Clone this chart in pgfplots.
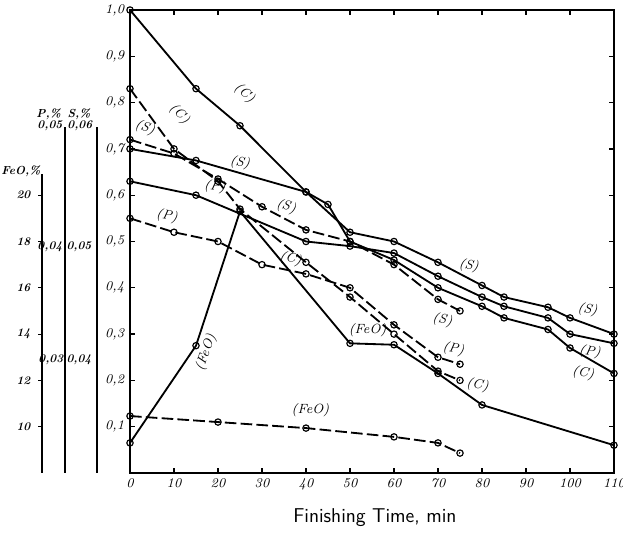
\documentclass[border=0pt]{standalone}
\usepackage{pgfplots}
\pgfplotsset{compat=1.18}
\pgfplotsset{ser/.style={black, solid, line width=1.1pt, mark=o, mark size=1.9pt, mark options={fill=white, solid, line width=0.7pt}},
  dser/.style={ser, dash pattern=on 7pt off 2.5pt}}
\begin{document}
\begin{tikzpicture}
\useasboundingbox (-78pt,-39pt) rectangle (295.8pt,283.8pt);
\begin{axis}[
  at={(0pt,0pt)}, anchor=south west,
  scale only axis, width=290.4pt, height=277.8pt,
  xmin=0, xmax=110, ymin=0, ymax=1,
  xtick={0,10,...,110},
  ytick={0.1,0.2,0.3,0.4,0.5,0.6,0.7,0.8,0.9,1.0},
  yticklabels={{0,1},{0,2},{0,3},{0,4},{0,5},{0,6},{0,7},{0,8},{0,9},{1,0}},
  xticklabels={0,10,20,30,40,50,60,70,80,90,100,110},
  axis line style={line width=1pt},
  tick style={black, line width=0.8pt},
  major tick length=3pt,
  tick align=inside,
  ticklabel style={font=\itshape\footnotesize},
  xlabel={Finishing Time, min},
  xlabel style={font=\sffamily\large, at={(axis description cs:0.506,-0.097)}, anchor=center},
  clip=false,
]
% solid heat
\addplot[ser] coordinates {(0,1.00)(15,0.83)(25,0.75)(40,0.607)(45,0.58)(50,0.50)(60,0.46)(70,0.40)(80,0.36)(85,0.335)(95,0.31)(100,0.27)(110,0.215)};
\addplot[ser] coordinates {(0,0.70)(15,0.675)(40,0.607)(50,0.52)(60,0.50)(70,0.455)(80,0.405)(85,0.38)(95,0.358)(100,0.335)(110,0.30)};
\addplot[ser] coordinates {(0,0.63)(15,0.60)(40,0.50)(50,0.49)(60,0.475)(70,0.425)(80,0.38)(85,0.36)(95,0.335)(100,0.30)(110,0.28)};
\addplot[ser] coordinates {(0,0.065)(15,0.275)(25,0.565)(50,0.28)(60,0.277)(70,0.215)(80,0.147)(110,0.06)};
% dashed heat
\addplot[dser] coordinates {(0,0.83)(10,0.70)(20,0.63)(25,0.57)(40,0.455)(50,0.38)(60,0.30)(70,0.22)(75,0.20)};
\addplot[dser] coordinates {(0,0.72)(10,0.69)(20,0.635)(30,0.575)(40,0.525)(50,0.50)(60,0.45)(70,0.375)(75,0.35)};
\addplot[dser] coordinates {(0,0.55)(10,0.52)(20,0.50)(30,0.45)(40,0.43)(50,0.40)(60,0.32)(70,0.25)(75,0.235)};
\addplot[dser] coordinates {(0,0.123)(20,0.11)(40,0.097)(60,0.078)(70,0.065)(75,0.043)};

% curve labels
\node[font=\itshape\footnotesize,rotate=-40] at (axis cs:26,0.82) {(C)};
\node[font=\itshape\footnotesize,rotate=-45] at (axis cs:11.2,0.775) {(C)};
\node[font=\itshape\footnotesize,rotate=-20] at (axis cs:3.4,0.745) {(S)};
\node[font=\itshape\footnotesize,rotate=-10] at (axis cs:25,0.67) {(S)};
\node[font=\itshape\footnotesize,rotate=-10] at (axis cs:19.3,0.618) {(P)};
\node[font=\itshape\footnotesize,rotate=-10] at (axis cs:8.4,0.555) {(P)};
\node[font=\itshape\footnotesize,rotate=-15] at (axis cs:35.5,0.575) {(S)};
\node[font=\itshape\footnotesize,rotate=70] at (axis cs:17.3,0.26) {(FeO)};
\node[font=\itshape\footnotesize,rotate=-15] at (axis cs:36.5,0.462) {(C)};
\node[font=\itshape\footnotesize] at (axis cs:54,0.308) {(FeO)};
\node[font=\itshape\footnotesize,rotate=-10] at (axis cs:71,0.33) {(S)};
\node[font=\itshape\footnotesize,rotate=-10] at (axis cs:77,0.448) {(S)};
\node[font=\itshape\footnotesize,rotate=-10] at (axis cs:73.5,0.268) {(P)};
\node[font=\itshape\footnotesize,rotate=-10] at (axis cs:79,0.19) {(C)};
\node[font=\itshape\footnotesize,rotate=-10] at (axis cs:104,0.352) {(S)};
\node[font=\itshape\footnotesize,rotate=-10] at (axis cs:104.5,0.262) {(P)};
\node[font=\itshape\footnotesize,rotate=-10] at (axis cs:103,0.215) {(C)};
\node[font=\itshape\footnotesize] at (axis cs:41,0.135) {(FeO)};

% auxiliary scales
\draw[line width=1pt] (axis cs:-20,0) -- (axis cs:-20,0.645);
\draw[line width=0.7pt] (axis cs:-20,0.1) -- (axis cs:-20.8,0.1);
\draw[line width=0.7pt] (axis cs:-20,0.2) -- (axis cs:-20.8,0.2);
\draw[line width=0.7pt] (axis cs:-20,0.3) -- (axis cs:-20.8,0.3);
\draw[line width=0.7pt] (axis cs:-20,0.4) -- (axis cs:-20.8,0.4);
\draw[line width=0.7pt] (axis cs:-20,0.5) -- (axis cs:-20.8,0.5);
\draw[line width=0.7pt] (axis cs:-20,0.6) -- (axis cs:-20.8,0.6);
\node[font=\itshape\bfseries\scriptsize,anchor=east] at (axis cs:-21.3,0.1) {10};
\node[font=\itshape\bfseries\scriptsize,anchor=east] at (axis cs:-21.3,0.2) {12};
\node[font=\itshape\bfseries\scriptsize,anchor=east] at (axis cs:-21.3,0.3) {14};
\node[font=\itshape\bfseries\scriptsize,anchor=east] at (axis cs:-21.3,0.4) {16};
\node[font=\itshape\bfseries\scriptsize,anchor=east] at (axis cs:-21.3,0.5) {18};
\node[font=\itshape\bfseries\scriptsize,anchor=east] at (axis cs:-21.3,0.6) {20};
\node[font=\itshape\bfseries\scriptsize] at (axis cs:-24.8,0.652) {FeO,\%};
\draw[line width=1pt] (axis cs:-14.8,0) -- (axis cs:-14.8,0.747);
\node[font=\itshape\bfseries\scriptsize] at (axis cs:-18.2,0.488) {0,04};
\node[font=\itshape\bfseries\scriptsize] at (axis cs:-18.0,0.244) {0,03};
\node[font=\itshape\bfseries\scriptsize] at (axis cs:-18.2,0.750) {0,05};
\node[font=\itshape\bfseries\scriptsize] at (axis cs:-18.5,0.775) {P,\%};
\draw[line width=1pt] (axis cs:-7.5,0) -- (axis cs:-7.5,0.747);
\node[font=\itshape\bfseries\scriptsize] at (axis cs:-11.6,0.488) {0,05};
\node[font=\itshape\bfseries\scriptsize] at (axis cs:-11.6,0.244) {0,04};
\node[font=\itshape\bfseries\scriptsize] at (axis cs:-11.4,0.750) {0,06};
\node[font=\itshape\bfseries\scriptsize] at (axis cs:-11.6,0.775) {S,\%};
\end{axis}
\end{tikzpicture}
\end{document}
